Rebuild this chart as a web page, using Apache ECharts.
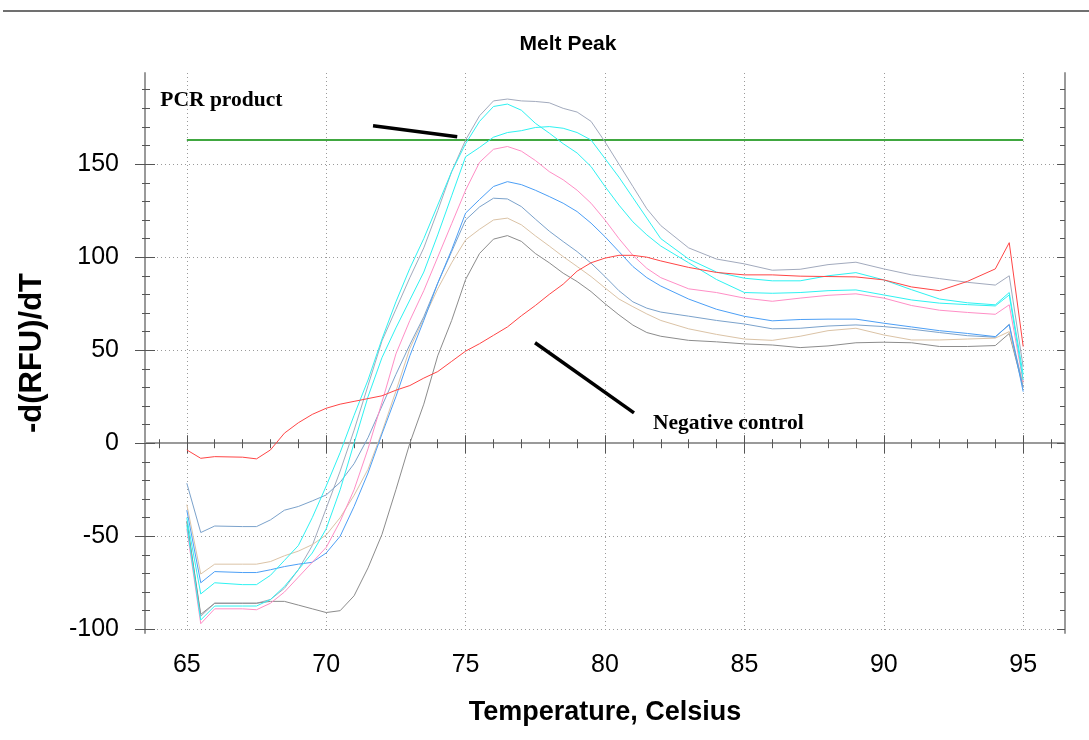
<!DOCTYPE html>
<html><head><meta charset="utf-8">
<script src="https://cdn.jsdelivr.net/npm/echarts@6/dist/echarts.min.js"></script>
<style>html,body{margin:0;padding:0;background:#fff}#c{width:1089px;height:740px}</style>
</head><body><div id="c"></div>
<script>
// ---- data (temperature, Celsius) ----
const temps = [65, 65.5, 66, 67, 67.5,
  68, 68.5, 69, 69.5, 70, 70.5, 71, 71.5, 72, 72.5, 73, 73.5, 74, 74.5, 75, 75.5, 76, 76.5, 77, 77.5, 78, 78.5, 79, 79.5, 80, 80.5, 81, 81.5, 82,
  83, 84, 85, 86, 87, 88, 89, 90, 91, 92, 93, 94, 94.5, 95];

const slateGray = [-42, -93, -86, -86, -86,
  -84, -78, -68, -55, -35, -15, 7, 31, 55, 72, 89, 105, 125, 146, 163, 176, 184, 185, 184, 183.7, 183, 180, 178, 173, 162, 150, 138, 126, 117,
  105, 99, 96.4, 93, 93.5, 96, 97.3, 93.7, 90.5, 88.5, 86.5, 85, 90, 41];
const cyanA = [-40, -81, -75, -76, -76,
  -71, -63, -55, -40, -23, -5, 15, 34, 56, 76, 94, 110, 128, 146, 161, 173, 181, 182.3, 179, 172, 166.7, 161, 156, 148.7, 138, 128, 119, 112, 106,
  97, 88, 81, 80.6, 81, 82, 82.4, 79.7, 77, 75.3, 74.5, 73.8, 79.7, 34];
const cyanB = [-44, -95, -87.5, -87.5, -87.5,
  -84, -77, -68, -59, -46, -25, 0, 25, 46, 62, 77, 92, 112, 133, 154, 159, 164.5, 167, 168, 169.7, 170.2, 169.3, 167, 163, 153, 143, 132, 121, 110,
  99, 92, 88.7, 87.3, 87.3, 90, 91.7, 87.8, 82.5, 77.5, 75.5, 74.4, 81, 37];
const pink = [-46, -97, -89, -89, -89.5,
  -86, -80, -72, -64, -56, -42, -25, -3, 22, 48, 66, 82, 100, 118, 136, 151, 158, 159.5, 157, 152, 146, 141.6, 136, 129, 120, 110, 101, 94, 89,
  83, 81, 78, 76.3, 78, 79.5, 80.3, 78, 74, 71.5, 70.3, 69.3, 74.4, 33];
const blue = [-36, -75, -69, -69.5, -69.5,
  -68, -66.3, -65, -64, -59, -50, -34, -16, 5, 25, 47, 66, 86, 104, 123.7, 131, 138, 140.6, 139, 136, 132.6, 129, 124.5, 118.3, 111, 103, 95, 89, 84.5,
  77.5, 72, 68.2, 65.8, 66.5, 66.7, 66.7, 64.5, 62.5, 60.5, 59, 57.3, 63.6, 27.7];
const steelBlue = [-21.5, -48, -44.5, -44.8, -44.8,
  -41.2, -36, -34, -31, -27.8, -21, -11, 3, 20, 37, 53, 68, 86, 103, 120, 127, 131.7, 131.3, 127.2, 120.5, 114, 108.4, 103, 96.8, 89.6, 82, 76, 72.6, 70.5,
  68.3, 66, 64.1, 61.5, 61.8, 63, 63.6, 62.7, 61.3, 59.5, 57.8, 57, 64, 30];
const tan = [-33, -70.3, -65, -65, -65,
  -63.6, -60.5, -58, -54.5, -49.3, -40, -28, -14, 6, 28, 51, 67, 83, 97, 109.3, 115, 120, 121, 117.4, 111.5, 106, 100.3, 95, 89.6, 83.5, 77.5, 73.4, 69.5, 66,
  61.5, 58.5, 56, 55.3, 57.5, 60.5, 61.8, 58.2, 55.5, 55.5, 56, 56.5, 60, 32];
const darkGray = [-42, -92, -86, -86, -86,
  -85, -85, -87, -89, -91, -90, -82, -67, -49, -25, 0, 21, 47, 66, 88, 102, 109.7, 111.6, 108.5, 102, 97, 91.4, 86.9, 81.5, 75, 69, 63.5, 59.5, 57.5,
  55.3, 54.5, 53.4, 52.8, 51.4, 52.3, 54, 54.3, 54, 52, 52, 52.5, 59, 30];
const negativeControl = [-3.6, -8.1, -7.2, -7.5, -8.4,
  -3.6, 5.4, 11, 15.5, 18.8, 21, 22.5, 24, 25.5, 28.5, 31, 35, 38.5, 44, 49.5, 53.5, 58, 62.5, 68.5, 74, 80, 85.5, 92.5, 97, 99.5, 101, 101, 100, 98,
  94.5, 91.8, 90.5, 90.5, 89.8, 89.6, 89.4, 87.8, 84, 82, 87, 93.7, 107.8, 52];
const thresholdTemps = [65, 95];
const thresholdValues = [163, 163];

// ---- ticks ----
const xMajorTicks = [65, 70, 75, 80, 85, 90, 95];
const xMinorTicks = [64, 65, 66, 67, 68, 69, 70, 71, 72, 73, 74, 75, 76, 77, 78, 79, 80, 81, 82, 83, 84, 85, 86, 87, 88, 89, 90, 91, 92, 93, 94, 95, 96];
const yMajorTicks = [-100, -50, 0, 50, 100, 150];
const yMinorTicks = [-100, -90, -80, -70, -60, -50, -40, -30, -20, -10, 0, 10, 20, 30, 40, 50, 60, 70, 80, 90, 100, 110, 120, 130, 140, 150, 160, 170, 180, 190];

// ---- annotations (data coordinates) ----
const pcrArrow = [[71.68, 170.6], [74.7, 164.7]];
const negArrow = [[77.49, 54], [81.04, 16.3]];
const pcrText = [64.05, 184.4];
const negText = [81.72, 10.4];

const X_MIN = 63.5, X_MAX = 96.5, Y_MIN = -102, Y_MAX = 199;
const GRID = '#9a9a9a';
const SANS = "'Liberation Sans',Arial,sans-serif";

function pair(xs, ys) { return xs.map((x, i) => [x, ys[i]]); }
function tickAxis(kind, position, values, length, inside, extra) {
  const base = {
    type: 'value', position: position,
    min: kind === 'x' ? X_MIN : Y_MIN, max: kind === 'x' ? X_MAX : Y_MAX,
    axisLine: { show: false }, axisLabel: { show: false }, splitLine: { show: false },
    axisTick: { show: true, customValues: values, length: length, inside: inside, lineStyle: { color: '#555', width: 1 } }
  };
  return Object.assign(base, extra || {});
}

const seriesDefs = [
  { name: 'slate', data: slateGray, color: '#a2aabd' },
  { name: 'darkgray', data: darkGray, color: '#8c8c8c' },
  { name: 'tan', data: tan, color: '#dbc3a6' },
  { name: 'steel', data: steelBlue, color: '#7ba2cb' },
  { name: 'blue', data: blue, color: '#4c9ff6' },
  { name: 'pink', data: pink, color: '#ff8ec6' },
  { name: 'cyanB', data: cyanB, color: '#2ef2f2' },
  { name: 'cyanA', data: cyanA, color: '#2ef2f2' },
  { name: 'negative', data: negativeControl, color: '#ff4545' }
];

const chart = echarts.init(document.getElementById('c'), null, { renderer: 'canvas' });

const series = seriesDefs.map(s => ({
  name: s.name, type: 'line', xAxisIndex: 0, yAxisIndex: 0,
  data: pair(temps, s.data), showSymbol: false, symbol: 'none',
  lineStyle: { color: s.color, width: 1 }, itemStyle: { color: s.color }, z: 3
}));
series.unshift({
  name: 'threshold', type: 'line', xAxisIndex: 0, yAxisIndex: 0,
  data: pair(thresholdTemps, thresholdValues), showSymbol: false, symbol: 'none',
  lineStyle: { color: '#008a00', width: 1.6 }, z: 3
});

const option = {
  animation: false,
  backgroundColor: '#fff',
  grid: { left: 145, right: 24, top: 73, bottom: 107, containLabel: false },
  xAxis: [
    tickAxis('x', 'bottom', xMajorTicks, 10, false, {
      axisLine: { show: true, lineStyle: { color: GRID, width: 2 } },
      axisLabel: { show: true, customValues: xMajorTicks, color: '#000', fontSize: 25, fontFamily: SANS, margin: 20 },
      splitLine: { show: true, lineStyle: { color: GRID, width: 1, type: [1, 3] } },
      name: 'Temperature, Celsius', nameLocation: 'middle', nameGap: 66,
      nameTextStyle: { color: '#000', fontSize: 27, fontWeight: 'bold', fontFamily: SANS }
    }),
    tickAxis('x', 'bottom', xMajorTicks, 8, true),
    tickAxis('x', 'bottom', xMinorTicks, 5, false),
    tickAxis('x', 'bottom', xMinorTicks, 4, true),
    tickAxis('x', 'top', xMinorTicks, 4, true, { axisLine: { show: true, lineStyle: { color: GRID, width: 1 } } }),
    tickAxis('x', 'top', xMajorTicks, 7, true)
  ],
  yAxis: [
    tickAxis('y', 'left', yMajorTicks, 10, false, {
      axisLine: { show: true, lineStyle: { color: GRID, width: 2 } },
      axisLabel: { show: true, customValues: yMajorTicks, color: '#000', fontSize: 25, fontFamily: SANS, margin: 26 },
      splitLine: { show: true, lineStyle: { color: GRID, width: 1, type: [1, 3] } },
      name: '-d(RFU)/dT', nameLocation: 'middle', nameGap: 97,
      nameTextStyle: { color: '#000', fontSize: 31, fontWeight: 'bold', fontFamily: SANS }
    }),
    tickAxis('y', 'left', yMajorTicks, 10, true),
    tickAxis('y', 'left', yMinorTicks, 3, false),
    tickAxis('y', 'left', yMinorTicks, 5, true),
    tickAxis('y', 'right', yMinorTicks, 5, true, { axisLine: { show: true, lineStyle: { color: GRID, width: 2 } } }),
    tickAxis('y', 'right', yMajorTicks, 8, true)
  ],
  series: series
};
chart.setOption(option);

// annotations placed through the chart's own scales
const toPx = p => chart.convertToPixel({ xAxisIndex: 0, yAxisIndex: 0 }, p);
const a1 = toPx(pcrArrow[0]), a2 = toPx(pcrArrow[1]);
const b1 = toPx(negArrow[0]), b2 = toPx(negArrow[1]);
const t1 = toPx(pcrText), t2 = toPx(negText);
const serif = "'Liberation Serif','Times New Roman',serif";
chart.setOption({
  graphic: [
    { type: 'line', shape: { x1: 3, y1: 11, x2: 1089, y2: 11 }, style: { stroke: '#707070', lineWidth: 2 } },
    { type: 'text', x: 568, y: 44, style: { text: 'Melt Peak', align: 'center', verticalAlign: 'middle', fill: '#000',
      font: "bold 21px " + SANS } },
    { type: 'line', shape: { x1: a1[0], y1: a1[1], x2: a2[0], y2: a2[1] }, style: { stroke: '#000', lineWidth: 3.5 }, z: 10 },
    { type: 'line', shape: { x1: b1[0], y1: b1[1], x2: b2[0], y2: b2[1] }, style: { stroke: '#000', lineWidth: 3.5 }, z: 10 },
    { type: 'text', x: t1[0], y: t1[1], style: { text: 'PCR product', align: 'left', verticalAlign: 'middle', fill: '#000',
      font: 'bold 21.5px ' + serif }, z: 10 },
    { type: 'text', x: t2[0], y: t2[1], style: { text: 'Negative control', align: 'left', verticalAlign: 'middle', fill: '#000',
      font: 'bold 21.5px ' + serif }, z: 10 }
  ]
});
</script>
</body></html>
